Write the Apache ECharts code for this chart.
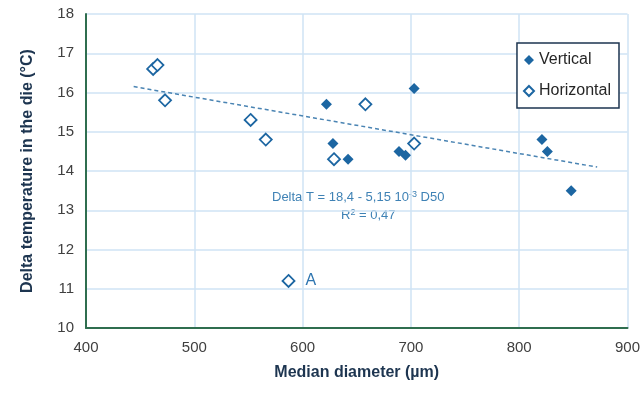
<!DOCTYPE html>
<html>
<head>
<meta charset="utf-8">
<script src="https://cdn.jsdelivr.net/npm/echarts@6/dist/echarts.min.js"></script>
<style>
  html, body { margin: 0; padding: 0; background: #fff; }
  #chart { width: 643px; height: 394px; }
</style>
</head>
<body>
<div id="chart"></div>
<script>
// points: [median diameter, delta T]
const vertical = [
  [622, 15.7], [628, 14.7], [642, 14.3], [689, 14.5], [695, 14.4],
  [703, 16.1], [821, 14.8], [826, 14.5], [848, 13.5]
];
const horizontal = [
  [462, 16.6], [466, 16.7], [473, 15.8], [552, 15.3], [566, 14.8],
  [587, 11.2], [629, 14.3], [658, 15.7], [703, 14.7]
];
const trend = [[444, 16.15], [872, 14.1]];
const outlierLabel = 'A';

const blue = '#1c66a2';
const grid = '#cfe3f5';

const chart = echarts.init(document.getElementById('chart'));

const option = {
  animation: false,
  textStyle: { fontFamily: 'Liberation Sans, Arial, sans-serif' },
  grid: { left: 86, right: 15, top: 14, bottom: 66 },
  xAxis: {
    type: 'value', min: 400, max: 900, interval: 100,
    name: 'Median diameter (µm)', nameLocation: 'middle', nameGap: 37,
    nameTextStyle: { fontSize: 16, fontWeight: 'bold', color: '#1d3550' },
    axisLine: { show: true, lineStyle: { color: '#2f6e4f', width: 2 } },
    axisTick: { show: false },
    axisLabel: { fontSize: 15, color: '#404040', margin: 12 },
    splitLine: { lineStyle: { color: grid, width: 1.5 } }
  },
  yAxis: {
    type: 'value', min: 10, max: 18, interval: 1,
    name: 'Delta temperature in the die (°C)', nameLocation: 'middle', nameGap: 50,
    nameTextStyle: { fontSize: 16, fontWeight: 'bold', color: '#1d3550' },
    axisLine: { show: true, lineStyle: { color: '#2f6e4f', width: 2 } },
    axisTick: { show: false },
    axisLabel: { fontSize: 15, color: '#404040', margin: 12 },
    splitLine: { lineStyle: { color: grid, width: 1.5 } }
  },
  legend: {
    orient: 'vertical', right: 24, top: 43,
    backgroundColor: '#fff', borderColor: '#1d3550', borderWidth: 1.5,
    padding: [9, 8, 9, 6], itemGap: 15, itemWidth: 10, itemHeight: 10,
    textStyle: { fontSize: 16, color: '#262626' },
    data: ['Vertical', 'Horizontal']
  },
  series: [
    {
      name: 'Trend', type: 'line', data: trend, symbol: 'none', silent: true,
      lineStyle: { color: '#4a84b3', width: 1.5, type: [4, 3] }, z: 1
    },
    {
      name: 'Vertical', type: 'scatter', data: vertical,
      symbol: 'diamond', symbolSize: 11,
      itemStyle: { color: blue, opacity: 1 }, z: 3
    },
    {
      name: 'Horizontal', type: 'scatter',
      data: horizontal.map(p => p[1] === 11.2 ? {
        value: p,
        label: { show: true, formatter: outlierLabel, position: 'right', distance: 10,
          fontSize: 16, color: '#2e75b0' }
      } : p),
      symbol: 'diamond', symbolSize: 12,
      itemStyle: { color: '#fff', borderColor: blue, borderWidth: 1.8, opacity: 1 }, z: 3
    }
  ],
  graphic: [
    {
      type: 'text', left: 272, top: 190,
      style: {
        text: '{t|Delta T = 18,4 - 5,15 10}{s|-3}{t| D50}',
        rich: {
          t: { fontSize: 13, fill: '#3f82b5' },
          s: { fontSize: 9, fill: '#3f82b5', verticalAlign: 'top', padding: [0, 0, 6, 0] }
        }
      }
    },
    {
      type: 'text', left: 341, top: 208,
      style: {
        text: '{t|R}{s|2}{t| = 0,47}',
        rich: {
          t: { fontSize: 13, fill: '#3f82b5' },
          s: { fontSize: 9, fill: '#3f82b5', verticalAlign: 'top', padding: [0, 0, 6, 0] }
        }
      }
    }
  ]
};

chart.setOption(option);
</script>
</body>
</html>
